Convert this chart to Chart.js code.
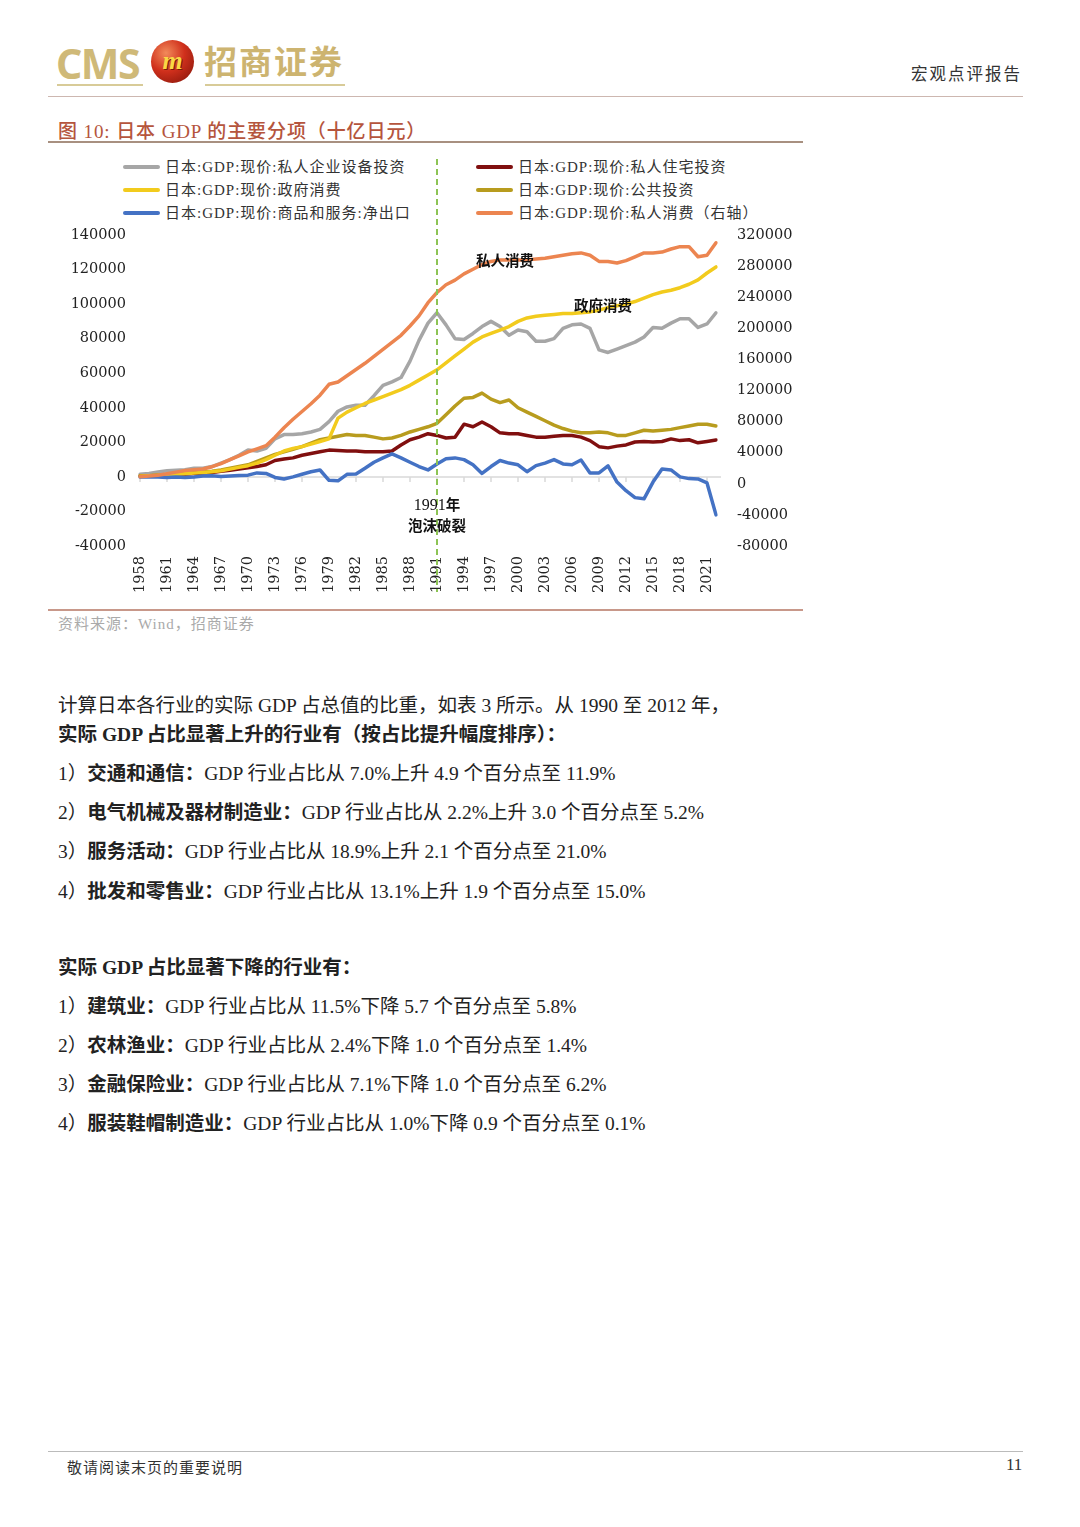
<!DOCTYPE html>
<html>
<head>
<meta charset="utf-8">
<script src="https://cdn.jsdelivr.net/npm/chart.js@4.4.3/dist/chart.umd.min.js"></script>
<style>
  body { margin: 0; background: #fff; width: 1080px; height: 1527px; position: relative; overflow: hidden;
         font-family: "Liberation Serif", "Noto Sans CJK SC", serif; color: #222; }
  .abs { position: absolute; white-space: nowrap; }
  .rule { position: absolute; height: 0; }
  .logo-cms { left: 56px; top: 35px; font-family: "Noto Sans", sans-serif; font-weight: 700; font-size: 41px;
              color: #cfb978; letter-spacing: -1.5px; }
  .logo-ball { left: 151px; top: 40px; width: 43px; height: 43px; border-radius: 50%;
               background: radial-gradient(circle at 35% 30%, #f28a5a 0%, #d0301c 45%, #7c1208 100%);
               color: #f9d845; font: italic 700 26px "Liberation Serif", serif; text-align: center; line-height: 41px;
               text-shadow: 1px 1px 0 #7a1a08; }
  .logo-cn { left: 204px; top: 36px; font-family: "Noto Sans CJK SC", sans-serif; font-weight: 700; font-size: 33px;
             color: #cdb470; letter-spacing: 2px; }
  .body-line { left: 58px; font-size: 19.5px; line-height: 26px; }
  .body-line b { font-weight: 700; }
  .legend-item { position: absolute; height: 20px; font-size: 15px; letter-spacing: 1px; line-height: 20px; color: #333; }
  .legend-item i { position: absolute; left: 0; top: 8px; width: 37px; height: 4px; border-radius: 2px; }
  .legend-item span { position: absolute; left: 42px; top: 0; white-space: nowrap; }
  .note { font-family: "Noto Sans CJK SC", sans-serif; font-weight: 700; font-size: 14.5px; color: #111; transform: translate(-50%, -50%); }
  .note-num { font-family: "Liberation Serif", "Noto Sans CJK SC", serif; font-size: 16px; color: #111; transform: translate(-50%, -50%); }
</style>
</head>
<body>

<!-- header -->
<div class="abs logo-cms">CMS</div>
<div class="abs logo-ball">m</div>
<div class="abs logo-cn">招商证券</div>
<div class="rule" style="left:57px;top:84px;width:86px;border-top:2px solid #d8cb98"></div>
<div class="rule" style="left:205px;top:84px;width:140px;border-top:2px solid #d8cb98"></div>
<div class="abs" style="left:911px;top:61px;font-size:16.5px;letter-spacing:2px;color:#333">宏观点评报告</div>
<div class="rule" style="left:48px;top:96px;width:975px;border-top:1.5px solid #cdb7b0"></div>

<!-- chart title -->
<div class="abs" style="left:58px;top:116px;font-size:19px;color:#b5553d;font-weight:500;letter-spacing:0.9px">图 10: 日本 GDP 的主要分项（十亿日元）</div>
<div class="rule" style="left:48px;top:141px;width:755px;border-top:2px solid #a89080"></div>

<div id="legend"></div>
<canvas id="gdp" class="abs" style="left:48px;top:150px" width="760" height="455"></canvas>

<div class="abs note" style="left:505px;top:259px">私人消费</div>
<div class="abs note" style="left:603px;top:304px">政府消费</div>
<div class="abs note-num" style="left:437px;top:503px">1991<span style="font-family:'Noto Sans CJK SC';font-weight:700;font-size:14.5px">年</span></div>
<div class="abs note" style="left:437px;top:524px">泡沫破裂</div>

<div class="rule" style="left:48px;top:609px;width:755px;border-top:2px solid #c8988a"></div>
<div class="abs" style="left:58px;top:612px;font-size:15px;color:#aaa;letter-spacing:1px">资料来源：Wind，招商证券</div>

<!-- body text -->
<div class="abs body-line" style="top:693px">计算日本各行业的实际 GDP 占总值的比重，如表 3 所示。从 1990 至 2012 年，</div>
<div class="abs body-line" style="top:722px"><b>实际 GDP 占比显著上升的行业有（按占比提升幅度排序）：</b></div>
<div class="abs body-line" style="top:761px">1）<b>交通和通信：</b>GDP 行业占比从 7.0%上升 4.9 个百分点至 11.9%</div>
<div class="abs body-line" style="top:800px">2）<b>电气机械及器材制造业：</b>GDP 行业占比从 2.2%上升 3.0 个百分点至 5.2%</div>
<div class="abs body-line" style="top:839px">3）<b>服务活动：</b>GDP 行业占比从 18.9%上升 2.1 个百分点至 21.0%</div>
<div class="abs body-line" style="top:879px">4）<b>批发和零售业：</b>GDP 行业占比从 13.1%上升 1.9 个百分点至 15.0%</div>

<div class="abs body-line" style="top:955px"><b>实际 GDP 占比显著下降的行业有：</b></div>
<div class="abs body-line" style="top:994px">1）<b>建筑业：</b>GDP 行业占比从 11.5%下降 5.7 个百分点至 5.8%</div>
<div class="abs body-line" style="top:1033px">2）<b>农林渔业：</b>GDP 行业占比从 2.4%下降 1.0 个百分点至 1.4%</div>
<div class="abs body-line" style="top:1072px">3）<b>金融保险业：</b>GDP 行业占比从 7.1%下降 1.0 个百分点至 6.2%</div>
<div class="abs body-line" style="top:1111px">4）<b>服装鞋帽制造业：</b>GDP 行业占比从 1.0%下降 0.9 个百分点至 0.1%</div>

<!-- footer -->
<div class="rule" style="left:48px;top:1451px;width:975px;border-top:1.5px solid #bbb"></div>
<div class="abs" style="left:67px;top:1456px;font-size:15px;letter-spacing:1px;color:#333">敬请阅读末页的重要说明</div>
<div class="abs" style="left:1006px;top:1455px;font-size:17px;color:#333">11</div>

<script>
// categories
const years = [1958,1959,1960,1961,1962,1963,1964,1965,1966,1967,
  1968,1969,1970,1971,1972,1973,1974,1975,1976,1977,
  1978,1979,1980,1981,1982,1983,1984,1985,1986,1987,
  1988,1989,1990,1991,1992,1993,1994,1995,1996,1997,
  1998,1999,2000,2001,2002,2003,2004,2005,2006,2007,
  2008,2009,2010,2011,2012,2013,2014,2015,2016,2017,
  2018,2019,2020,2021,2022];

// 私人企业设备投资 (left axis)
const equipInv = [1500,2000,2800,3500,3800,4200,5000,5000,6000,8000,
  10000,12500,15500,15000,16500,22000,24500,24500,25000,26000,
  27500,32000,38000,40500,41500,41500,47000,53000,55000,57500,
  67000,79000,89000,95000,88000,80000,79500,83000,87000,90000,
  87000,82000,85000,84000,78500,78500,80000,86000,88000,88500,
  86000,73500,72000,74000,76000,78000,81000,86500,86000,89000,
  91500,91500,86500,88500,95000];

// 私人住宅投资 (left axis)
const houseInv = [500,600,800,1000,1200,1500,1900,2200,2600,3200,
  3800,4500,5300,6000,7000,9500,10300,11000,12500,13500,
  14500,15500,15300,15000,15000,14600,14500,14500,15000,18500,
  21500,23000,25000,24000,22500,23000,30500,29000,31800,29000,
  25500,25000,25000,24000,23000,23000,23500,24000,24000,23000,
  21000,17500,16800,17800,18500,20200,20500,20200,20500,22000,
  21000,21500,19700,20500,21400];

// 政府消费 (left axis)
const govCons = [500,700,1000,1200,1500,1800,2200,2600,3000,3500,
  4500,5500,6500,8000,10000,12500,15000,16500,17500,19000,
  20500,22000,34000,37500,40000,42500,44500,46500,48500,50500,
  53000,56000,59000,62000,66000,70000,74000,78000,81000,83000,
  85000,87000,90000,92000,93000,93500,94000,94500,94500,95000,
  95500,96500,98000,99000,100000,101500,103500,105500,107000,108000,
  109500,111500,114000,118000,121500];

// 公共投资 (left axis)
const pubInv = [500,700,1000,1300,1600,2000,2400,2800,3300,4000,
  5000,6000,7000,9000,11000,13000,14500,16000,17500,19500,
  21500,22500,23500,24500,24000,24000,23000,22000,22500,24000,
  26000,27500,29000,31000,36000,41000,45500,46000,48500,45000,
  43000,44500,40000,37500,35000,32500,30000,28000,26500,25500,
  25500,26000,25500,24000,24000,25500,27000,26500,27000,27500,
  28500,29500,30500,30500,29500];

// 商品和服务:净出口 (left axis)
const netExp = [0,0,0,-300,0,-300,0,500,600,200,
  500,800,1000,2300,2000,-300,-1200,0,1500,3000,
  4000,-2000,-2300,1500,1700,5000,8500,11000,13300,11000,
  8500,6000,4000,7500,10500,11000,10000,7000,2000,6000,
  9500,8000,7000,3000,6500,8000,10000,7500,7000,9800,
  2300,2300,6400,-3000,-8000,-12000,-12700,-3000,4600,4000,
  0,-1000,-1200,-3500,-22000];

// 私人消费 (right axis)
const privCons = [9000,10000,11000,13000,15000,17000,18000,19000,22000,26000,
  31000,36000,41000,45000,49000,60000,72000,83000,93000,103000,
  114000,128000,131000,139000,147000,155000,164000,173000,182000,191000,
  203000,216000,233000,246000,256000,262000,270000,276000,282000,286000,
  288000,288000,288000,288000,289000,290000,292000,294000,296000,297000,
  294000,286000,286000,284000,287000,292000,297000,297000,298000,302000,
  305000,305000,292000,294000,310000];

// axis ranges
const leftTicks = { min: -40000, max: 140000, step: 20000 };
const rightTicks = { min: -80000, max: 320000, step: 40000 };
const bubbleYear = 1991;

const series = [
  { label: '日本:GDP:现价:私人企业设备投资', data: equipInv, color: '#a6a6a6', axis: 'y', order: 6 },
  { label: '日本:GDP:现价:私人住宅投资', data: houseInv, color: '#800f0f', axis: 'y', order: 4 },
  { label: '日本:GDP:现价:政府消费', data: govCons, color: '#f2cb1d', axis: 'y', order: 3 },
  { label: '日本:GDP:现价:公共投资', data: pubInv, color: '#b89c1e', axis: 'y', order: 5 },
  { label: '日本:GDP:现价:商品和服务:净出口', data: netExp, color: '#4472c4', axis: 'y', order: 2 },
  { label: '日本:GDP:现价:私人消费（右轴）', data: privCons, color: '#ec8550', axis: 'y1', order: 1 }
];

// legend, two columns, filled row by row
const legend = document.getElementById('legend');
series.forEach((s, i) => {
  const el = document.createElement('div');
  el.className = 'legend-item';
  el.style.left = (i % 2 === 0 ? 123 : 476) + 'px';
  el.style.top = (157 + Math.floor(i / 2) * 23) + 'px';
  el.innerHTML = '<i style="background:' + s.color + '"></i><span>' + s.label + '</span>';
  legend.appendChild(el);
});

const axisFont = { family: 'DejaVu Serif', size: 14.5 };
const plain = v => String(v);

// zero line ticks + 1991 dashed marker
const markers = {
  id: 'markers',
  beforeDatasetsDraw(chart) {
    const { ctx, scales: { x, y } } = chart;
    const y0 = y.getPixelForValue(0);
    ctx.save();
    ctx.strokeStyle = '#d9d9d9';
    ctx.lineWidth = 1.5;
    ctx.beginPath();
    ctx.moveTo(x.left, y0);
    ctx.lineTo(x.right + 5, y0);
    for (let i = 0; i < years.length; i += 3) {
      const px = x.getPixelForValue(i);
      ctx.moveTo(px, y0);
      ctx.lineTo(px, y0 + 5);
    }
    ctx.stroke();
    ctx.restore();
  },
  afterDatasetsDraw(chart) {
    const { ctx, chartArea, scales: { x } } = chart;
    const px = x.getPixelForValue(years.indexOf(bubbleYear));
    ctx.save();
    ctx.strokeStyle = '#8dc454';
    ctx.lineWidth = 2;
    ctx.setLineDash([6, 4]);
    ctx.beginPath();
    ctx.moveTo(px, chartArea.top - 76);
    ctx.lineTo(px, chartArea.bottom + 46);
    ctx.stroke();
    ctx.restore();
  }
};

new Chart(document.getElementById('gdp'), {
  type: 'line',
  data: {
    labels: years,
    datasets: series.map(s => ({
      label: s.label,
      data: s.data,
      borderColor: s.color,
      backgroundColor: s.color,
      yAxisID: s.axis,
      order: s.order
    }))
  },
  options: {
    responsive: false,
    animation: false,
    layout: { padding: { top: 85, left: 0, right: 0, bottom: 0 } },
    elements: {
      point: { radius: 0 },
      line: { borderWidth: 3.5, tension: 0, borderCapStyle: 'round', borderJoinStyle: 'round' }
    },
    plugins: { legend: { display: false }, tooltip: { enabled: false } },
    scales: {
      x: {
        grid: { display: false },
        border: { display: false },
        ticks: {
          autoSkip: false, maxRotation: 90, minRotation: 90, padding: 2,
          color: '#222', font: axisFont,
          callback: (v, i) => (i % 3 === 0 ? String(years[i]) : '')
        },
        afterFit(s) { s.height = 59; }
      },
      y: {
        position: 'left',
        min: leftTicks.min, max: leftTicks.max,
        grid: { display: false },
        border: { display: false },
        ticks: { stepSize: leftTicks.step, padding: 6, color: '#222', font: axisFont, callback: plain },
        afterFit(s) { s.width = 92; }
      },
      y1: {
        position: 'right',
        min: rightTicks.min, max: rightTicks.max,
        grid: { display: false },
        border: { display: false },
        ticks: { stepSize: rightTicks.step, padding: 13, color: '#222', font: axisFont, callback: plain },
        afterFit(s) { s.width = 92; }
      }
    }
  },
  plugins: [markers]
});
</script>
</body>
</html>
